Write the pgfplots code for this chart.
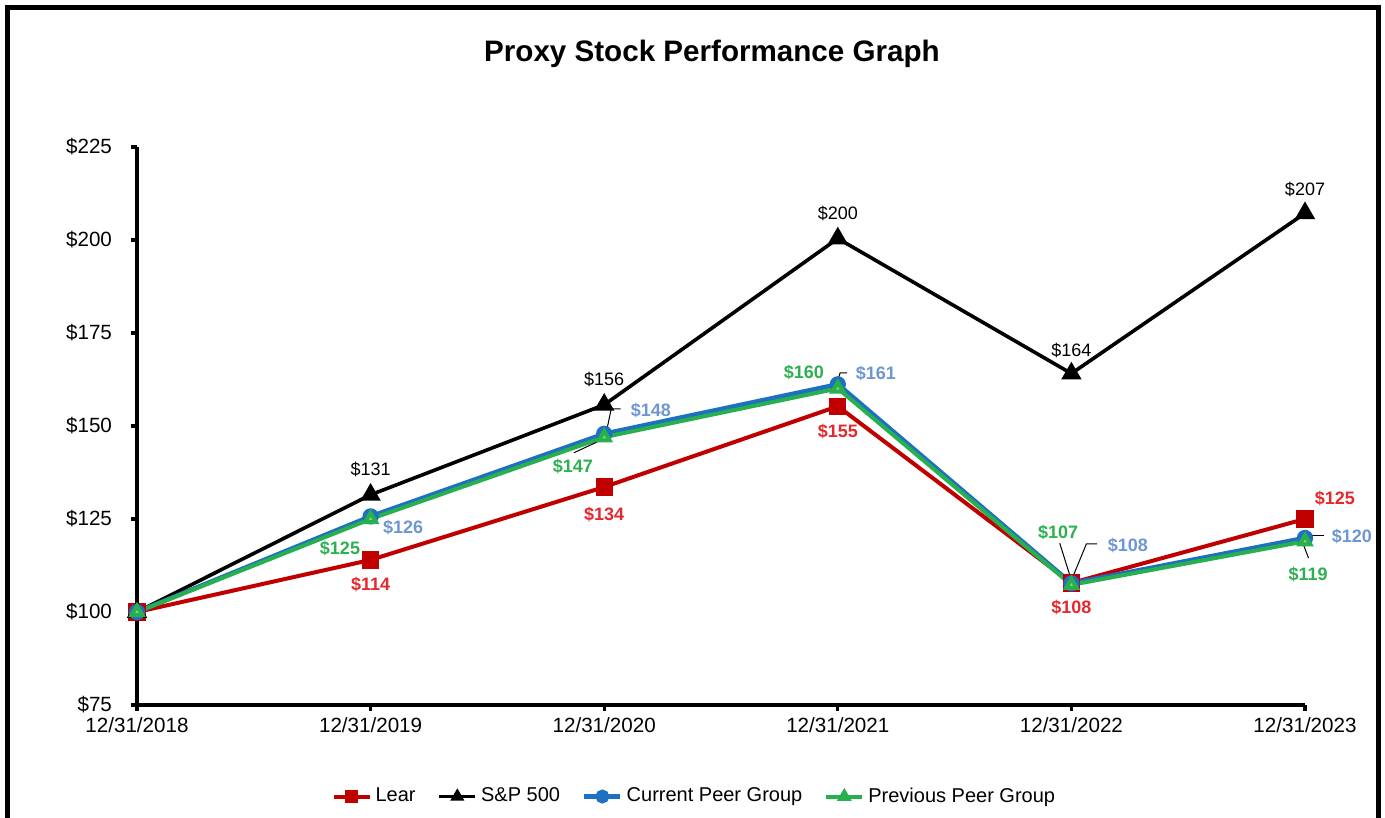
\documentclass[border=0pt]{standalone}
\usepackage{pgfplots}
\pgfplotsset{compat=1.18}
\usepackage{fontspec}
\setmainfont{Liberation Sans}
\definecolor{learline}{RGB}{192,0,0}
\definecolor{learlab}{RGB}{230,40,45}
\definecolor{curline}{RGB}{30,112,192}
\definecolor{curlab}{RGB}{110,150,210}
\definecolor{prevline}{RGB}{40,176,80}
\definecolor{prevfill}{RGB}{150,210,100}
\definecolor{prevlab}{RGB}{45,176,80}
\begin{document}
\begin{tikzpicture}[x=1pt,y=1pt]
\path[use as bounding box] (0,0) rectangle (692.5,409);
\draw[line width=2.5pt] (3.75,0) -- (3.75,405.25) -- (689.25,405.25) -- (689.25,0);
\node[font=\bfseries\fontsize{14.8}{17}\selectfont] at (356,382) {Proxy Stock Performance Graph};
\begin{axis}[
  at={(68.5pt,56.5pt)}, anchor=south west,
  scale only axis, width=584pt, height=279pt,
  xmin=0, xmax=5, ymin=75, ymax=225,
  xtick={0,...,5},
  xticklabels={12/31/2018,12/31/2019,12/31/2020,12/31/2021,12/31/2022,12/31/2023},
  ytick={75,100,125,150,175,200,225},
  yticklabels={\$75,\$100,\$125,\$150,\$175,\$200,\$225},
  axis x line*=bottom, axis y line*=left,
  axis line style={line width=1.6pt,-},
  tick style={black, line width=1.6pt},
  major tick length=3pt, tick align=outside,
  ticklabel style={font=\fontsize{10.3}{12}\selectfont},
  yticklabel style={xshift=-6pt},
  clip=false,
  legend style={at={(0.478,-0.164)}, anchor=center, draw=none, fill=none,
    legend columns=-1, font=\fontsize{10}{12}\selectfont,
    /tikz/every even column/.append style={column sep=9pt},
    inner sep=0pt},
  legend cell align=left,
  legend image code/.code={\draw[#1] (0pt,0pt) -- (18pt,0pt); \draw[#1, mark size=2.3pt] plot coordinates {(9pt,0pt)};},
]
\addplot[learline, line width=2pt, mark=square*, mark size=3.3pt, mark options={solid, fill=learline, draw=learline}]
  coordinates {(0,100) (1,114) (2,133.6) (3,155.3) (4,107.8) (5,125)};
\addlegendentry{Lear}
\addplot[black, line width=1.8pt, mark=triangle*, mark size=4.1pt, mark options={solid, fill=black}]
  coordinates {(0,100) (1,131.5) (2,155.7) (3,200.4) (4,164.1) (5,207.2)};
\addlegendentry{S\&P 500}
\addplot[curline, line width=2.3pt, mark=*, mark size=2.9pt, mark options={solid, fill=curline}]
  coordinates {(0,100) (1,125.7) (2,147.9) (3,161.2) (4,107.7) (5,119.9)};
\addlegendentry{Current Peer Group}
\addplot[prevline, line width=2pt, mark=triangle*, mark size=3.1pt, mark options={solid, fill=prevfill, draw=prevline}]
  coordinates {(0,100) (1,125) (2,147) (3,160.1) (4,107.3) (5,119)};
\addlegendentry{Previous Peer Group}
% leader lines
\draw[black, line width=0.5pt] (axis cs:2.01,148.6) -- (axis cs:2.03,154.6) -- (axis cs:2.07,154.6);
\draw[black, line width=0.5pt] (axis cs:1.99,146.3) -- (axis cs:1.87,142.8);
\draw[black, line width=0.5pt] (axis cs:3.0,162.2) -- (axis cs:3.01,164.3) -- (axis cs:3.04,164.3);
\draw[black, line width=0.5pt] (axis cs:4.0,108.5) -- (axis cs:4.064,118.3) -- (axis cs:4.11,118.3);
\draw[black, line width=0.5pt] (axis cs:4.0,108.5) -- (axis cs:3.95,118.5);
\draw[black, line width=0.5pt] (axis cs:5.02,120.6) -- (axis cs:5.08,120.6);
\draw[black, line width=0.5pt] (axis cs:4.995,117.8) -- (axis cs:5.015,114.5);
% data labels
\tikzset{dl/.style={font=\fontsize{9}{11}\selectfont, inner sep=0pt}, dlb/.style={font=\bfseries\fontsize{9}{11}\selectfont, inner sep=0pt}}
\node[dl] at (axis cs:1,138.2) {\$131};
\node[dl] at (axis cs:2,162.4) {\$156};
\node[dl] at (axis cs:3,207) {\$200};
\node[dl] at (axis cs:4,170.4) {\$164};
\node[dl] at (axis cs:5,213.7) {\$207};
\node[dlb, text=learlab] at (axis cs:1,107.3) {\$114};
\node[dlb, text=learlab] at (axis cs:2,126.3) {\$134};
\node[dlb, text=learlab] at (axis cs:3,148.4) {\$155};
\node[dlb, text=learlab] at (axis cs:4,101.1) {\$108};
\node[dlb, text=learlab] at (axis cs:5.128,130.6) {\$125};
\node[dlb, text=curlab] at (axis cs:1.139,122.8) {\$126};
\node[dlb, text=curlab] at (axis cs:2.200,154.3) {\$148};
\node[dlb, text=curlab] at (axis cs:3.163,164) {\$161};
\node[dlb, text=curlab] at (axis cs:4.242,118) {\$108};
\node[dlb, text=curlab] at (axis cs:5.201,120.4) {\$120};
\node[dlb, text=prevlab] at (axis cs:0.869,117.2) {\$125};
\node[dlb, text=prevlab] at (axis cs:1.866,139.2) {\$147};
\node[dlb, text=prevlab] at (axis cs:2.855,164.5) {\$160};
\node[dlb, text=prevlab] at (axis cs:3.943,121.5) {\$107};
\node[dlb, text=prevlab] at (axis cs:5.013,110) {\$119};
\end{axis}
\end{tikzpicture}
\end{document}
